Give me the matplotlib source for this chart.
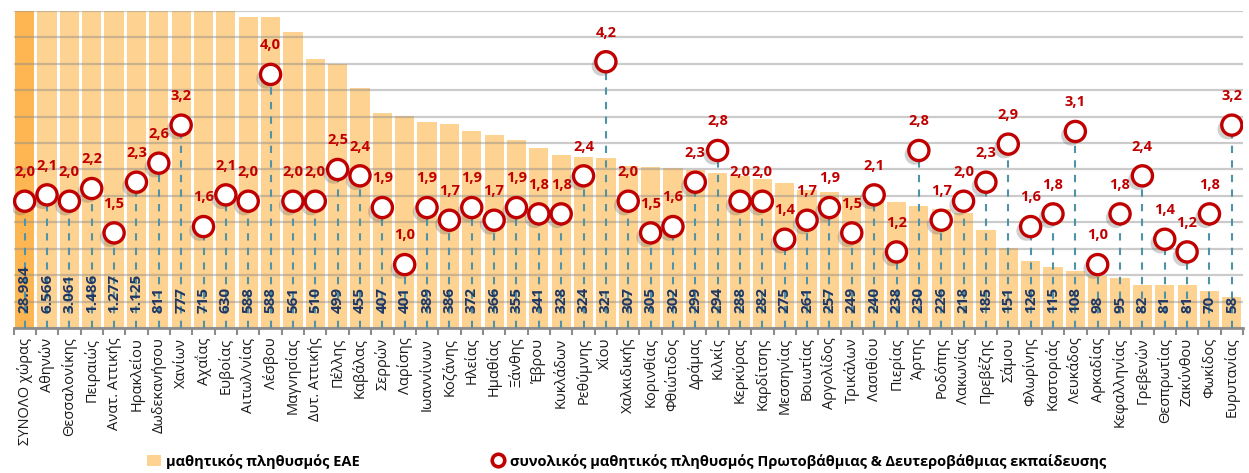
import matplotlib
matplotlib.use('Agg')
import matplotlib.pyplot as plt
import matplotlib.patheffects as pe
from matplotlib.patches import Patch
from matplotlib.lines import Line2D
import numpy as np

plt.rcParams['font.family'] = ['Open Sans', 'DejaVu Sans']

# περιφερειακές διευθύνσεις (νομοί) και τιμές
regions = ['ΣΥΝΟΛΟ χώρας', 'Αθηνών', 'Θεσσαλονίκης', 'Πειραιώς', 'Ανατ. Αττικής',
           'Ηρακλείου', 'Δωδεκανήσου', 'Χανίων', 'Αχαΐας', 'Ευβοίας', 'Αιτωλ/νίας',
           'Λέσβου', 'Μαγνησίας', 'Δυτ. Αττικής', 'Πέλλης', 'Καβάλας', 'Σερρών',
           'Λαρίσης', 'Ιωαννίνων', 'Κοζάνης', 'Ηλείας', 'Ημαθίας', 'Ξάνθης', 'Έβρου',
           'Κυκλάδων', 'Ρεθύμνης', 'Χίου', 'Χαλκιδικής', 'Κορινθίας', 'Φθιώτιδος',
           'Δράμας', 'Κιλκίς', 'Κερκύρας', 'Καρδίτσης', 'Μεσσηνίας', 'Βοιωτίας',
           'Αργολίδος', 'Τρικάλων', 'Λασιθίου', 'Πιερίας', 'Άρτης', 'Ροδόπης',
           'Λακωνίας', 'Πρεβέζης', 'Σάμου', 'Φλωρίνης', 'Καστοριάς', 'Λευκάδος',
           'Αρκαδίας', 'Κεφαλληνίας', 'Γρεβενών', 'Θεσπρωτίας', 'Ζακύνθου',
           'Φωκίδος', 'Ευρυτανίας']

# μαθητικός πληθυσμός ΕΑΕ
eae_students = [28984, 6566, 3061, 1486, 1277, 1125, 811, 777, 715, 630, 588,
                588, 561, 510, 499, 455, 407, 401, 389, 386, 372, 366, 355, 341,
                328, 324, 321, 307, 305, 302, 299, 294, 288, 282, 275, 261, 257,
                249, 240, 238, 230, 226, 218, 185, 151, 126, 115, 108, 98, 95, 82,
                81, 81, 70, 58]

# ποσοστό (%) επί του συνολικού μαθητικού πληθυσμού
eae_pct = [2.0, 2.1, 2.0, 2.2, 1.5, 2.3, 2.6, 3.2, 1.6, 2.1, 2.0, 4.0, 2.0, 2.0,
           2.5, 2.4, 1.9, 1.0, 1.9, 1.7, 1.9, 1.7, 1.9, 1.8, 1.8, 2.4, 4.2, 2.0,
           1.5, 1.6, 2.3, 2.8, 2.0, 2.0, 1.4, 1.7, 1.9, 1.5, 2.1, 1.2, 2.8, 1.7,
           2.0, 2.3, 2.9, 1.6, 1.8, 3.1, 1.0, 1.8, 2.4, 1.4, 1.2, 1.8, 3.2]

BAR = '#FED291'
BAR_TOTAL = '#FDB652'
RED = '#C00000'
NAVY = '#1F3864'
DASH = '#4F93A8'

x = np.arange(len(regions))

fig = plt.figure(figsize=(12.49, 4.73), dpi=100)
ax = fig.add_axes([13.5 / 1249, 145 / 473, (1243 - 13.5) / 1249, 317 / 473])

colors = [BAR_TOTAL] + [BAR] * (len(regions) - 1)
ax.bar(x, eae_students, width=0.86, color=colors, zorder=1)
ax.set_ylim(0, 600)
ax.set_xlim(-0.5, len(regions) - 0.5)
ax.set_yticks(np.arange(0, 601, 50))
ax.yaxis.grid(True, color='#8C8C8C', linewidth=1.6, alpha=0.45, zorder=2)
ax.set_axisbelow(False)
ax.tick_params(axis='y', left=False, labelleft=False, length=0)
for s in ['top', 'left', 'right']:
    ax.spines[s].set_visible(False)
ax.spines['bottom'].set_color('#8C8C8C')
ax.spines['bottom'].set_linewidth(2)
ax.spines['bottom'].set_zorder(6)

ax.set_xticks(x)
ax.set_xticklabels(regions, rotation=90, fontsize=10.5, color='#1A1A1A')
ax.tick_params(axis='x', which='major', length=0, pad=7)
ax.set_xticks(np.arange(-0.5, len(regions)), minor=True)
ax.tick_params(axis='x', which='minor', length=5, width=1.5, color='#8C8C8C')

ax2 = ax.twinx()
ax2.set_ylim(0, 5)
ax2.set_axis_off()
ax2.vlines(x, 0, eae_pct, colors=DASH, linestyles=(0, (3.5, 3.5)),
           linewidth=1.5, zorder=3)
ax2.plot(x, eae_pct, linestyle='none', marker='o', markersize=14.5,
         markerfacecolor='white', markeredgecolor=RED, markeredgewidth=2.4,
         zorder=4,
         path_effects=[pe.SimplePatchShadow(offset=(-3, -3), shadow_rgbFace='0.4',
                                            alpha=0.3), pe.Normal()])
for xi, p in zip(x, eae_pct):
    ax2.annotate(f'{p:.1f}'.replace('.', ','), xy=(xi, p), xytext=(0, 21),
                 textcoords='offset points', ha='center', va='center',
                 fontsize=10.5, fontweight='bold', color=RED)

# τιμές ΕΑΕ μέσα στις μπάρες, πάνω από τις διακεκομμένες
for xi, v in zip(x, eae_students):
    ax2.annotate(f'{v:,}'.replace(',', '.'), xy=(xi, 0), xytext=(0, 11),
                 textcoords='offset points', rotation=90, ha='center',
                 va='bottom', fontsize=11, fontweight='bold', color=NAVY,
                 zorder=5)

handles = [Patch(facecolor=BAR, edgecolor='none'),
           Line2D([], [], linestyle='none', marker='o', markersize=9,
                  markerfacecolor='white', markeredgecolor=RED,
                  markeredgewidth=2.6)]
labels = ['μαθητικός πληθυσμός ΕΑΕ',
          'συνολικός μαθητικός πληθυσμός Πρωτοβάθμιας & Δευτεροβάθμιας εκπαίδευσης']
fig.legend(handles, labels, loc='center', bbox_to_anchor=(0.502, 0.025), ncol=2,
           frameon=False, columnspacing=9, handlelength=0.9, handletextpad=0.4,
           prop={'weight': 'bold', 'size': 10.5})

fig.savefig('out.png', dpi=100)
